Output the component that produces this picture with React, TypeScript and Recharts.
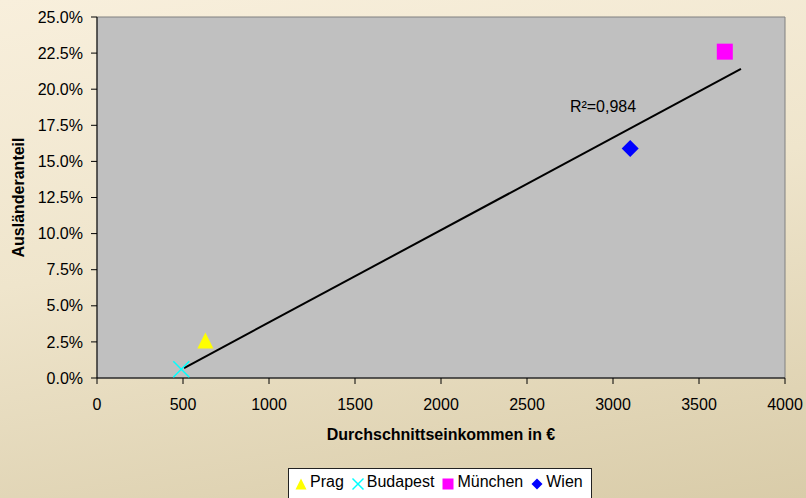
import React from "react"
import {
  ScatterChart,
  Scatter,
  XAxis,
  YAxis,
  Legend,
  ReferenceArea,
  ReferenceDot,
} from "recharts"

const cities = ["Prag", "Budapest", "München", "Wien"]
const incomes = [630, 490, 3650, 3100]
const foreignShare = [0.026, 0.006, 0.226, 0.159]
const colors = ["#FFFF00", "#00FFFF", "#FF00FF", "#0000FF"]
const shapes = ["triangle", "x", "square", "diamond"]

const trendX = [506, 3744]
const trendY = [0.0069, 0.214]
const rSquaredText = "R²=0,984"
const rSquaredPos = { x: 2942, y: 0.188 }

const xTicks = [0, 500, 1000, 1500, 2000, 2500, 3000, 3500, 4000]
const yTicks = [0, 0.025, 0.05, 0.075, 0.1, 0.125, 0.15, 0.175, 0.2, 0.225, 0.25]

const FONT = "'Liberation Sans', Arial, sans-serif"

function Marker({ kind, color, cx, cy, size = 16 }: any) {
  const h = size / 2
  if (kind === "triangle")
    return <polygon points={`${cx},${cy - h} ${cx + h},${cy + h} ${cx - h},${cy + h}`} fill={color} />
  if (kind === "square")
    return <rect x={cx - h} y={cy - h} width={size} height={size} fill={color} />
  if (kind === "diamond")
    return <polygon points={`${cx},${cy - h} ${cx + h},${cy} ${cx},${cy + h} ${cx - h},${cy}`} fill={color} />
  return (
    <g stroke={color} strokeWidth={1.5}>
      <line x1={cx - h} y1={cy - h} x2={cx + h} y2={cy + h} />
      <line x1={cx - h} y1={cy + h} x2={cx + h} y2={cy - h} />
    </g>
  )
}

function LegendBox() {
  return (
    <div
      style={{
        width: 304,
        height: 34,
        background: "#fff",
        border: "1px solid #222",
        boxSizing: "border-box",
        display: "flex",
        alignItems: "flex-start",
        paddingTop: 4,
        paddingLeft: 5,
        fontFamily: FONT,
        fontSize: 16,
        color: "#000",
      }}
    >
      {cities.map((c, i) => (
        <span key={c} style={{ display: "flex", alignItems: "center", marginRight: 7 }}>
          <svg width={14} height={14} style={{ marginRight: 2, marginTop: 4 }}>
            <Marker kind={shapes[i]} color={colors[i]} cx={7} cy={7} size={11} />
          </svg>
          {c}
        </span>
      ))}
    </div>
  )
}

export default function App() {
  const series = cities.map((c, i) => ({ name: c, data: [{ x: incomes[i], y: foreignShare[i] }] }))
  const trend = trendX.map((x, i) => ({ x, y: trendY[i] }))

  return (
    <div
      style={{
        position: "absolute",
        left: 0,
        top: 0,
        width: 806,
        height: 498,
        overflow: "hidden",
        background: "linear-gradient(170deg, #f8efdc 0%, #efe5cc 45%, #d9cca9 100%)",
      }}
    >
      <ScatterChart width={806} height={498} margin={{ top: 17, right: 21, left: 0, bottom: 58 }}>
        <ReferenceArea
          x1={0}
          x2={4000}
          y1={0}
          y2={0.25}
          fill="#C0C0C0"
          fillOpacity={1}
          stroke="#808080"
          strokeWidth={1}
        />
        <XAxis
          type="number"
          dataKey="x"
          domain={[0, 4000]}
          ticks={xTicks}
          allowDataOverflow
          height={62}
          stroke="#000"
          tickSize={6}
          tickMargin={15}
          tick={{ fill: "#000", fontSize: 16, fontFamily: FONT }}
          label={{
            value: "Durchschnittseinkommen in €",
            position: "insideBottom",
            offset: 0,
            style: { fontWeight: "bold", fontSize: 16, fontFamily: FONT, fill: "#000" },
          }}
        />
        <YAxis
          type="number"
          dataKey="y"
          domain={[0, 0.25]}
          ticks={yTicks}
          allowDataOverflow
          width={97}
          stroke="#000"
          tickSize={6}
          tickMargin={8}
          tickFormatter={(v: number) => (v * 100).toFixed(1) + "%"}
          tick={{ fill: "#000", fontSize: 16, fontFamily: FONT }}
          label={{
            value: "Ausländeranteil",
            angle: -90,
            position: "insideLeft",
            offset: 18,
            style: { textAnchor: "middle", fontWeight: "bold", fontSize: 16, fontFamily: FONT, fill: "#000" },
          }}
        />
        <Scatter
          name="trend"
          data={trend}
          line={{ stroke: "#000", strokeWidth: 2 }}
          shape={() => null}
          legendType="none"
          isAnimationActive={false}
        />
        {series.map((s, i) => (
          <Scatter
            key={s.name}
            name={s.name}
            data={s.data}
            fill={colors[i]}
            shape={(p: any) => <Marker kind={shapes[i]} color={colors[i]} cx={p.cx} cy={p.cy} size={i === 3 ? 17 : 16} />}
            isAnimationActive={false}
          />
        ))}
        <ReferenceDot
          x={rSquaredPos.x}
          y={rSquaredPos.y}
          r={0}
          fill="none"
          stroke="none"
          label={{ value: rSquaredText, position: "center", fill: "#000", fontSize: 16, fontFamily: FONT }}
        />
        <Legend
          layout="vertical"
          align="center"
          verticalAlign="middle"
          content={() => <LegendBox />}
          wrapperStyle={{ position: "absolute", left: 288, top: 468, width: 304, height: 34 }}
        />
      </ScatterChart>
    </div>
  )
}
